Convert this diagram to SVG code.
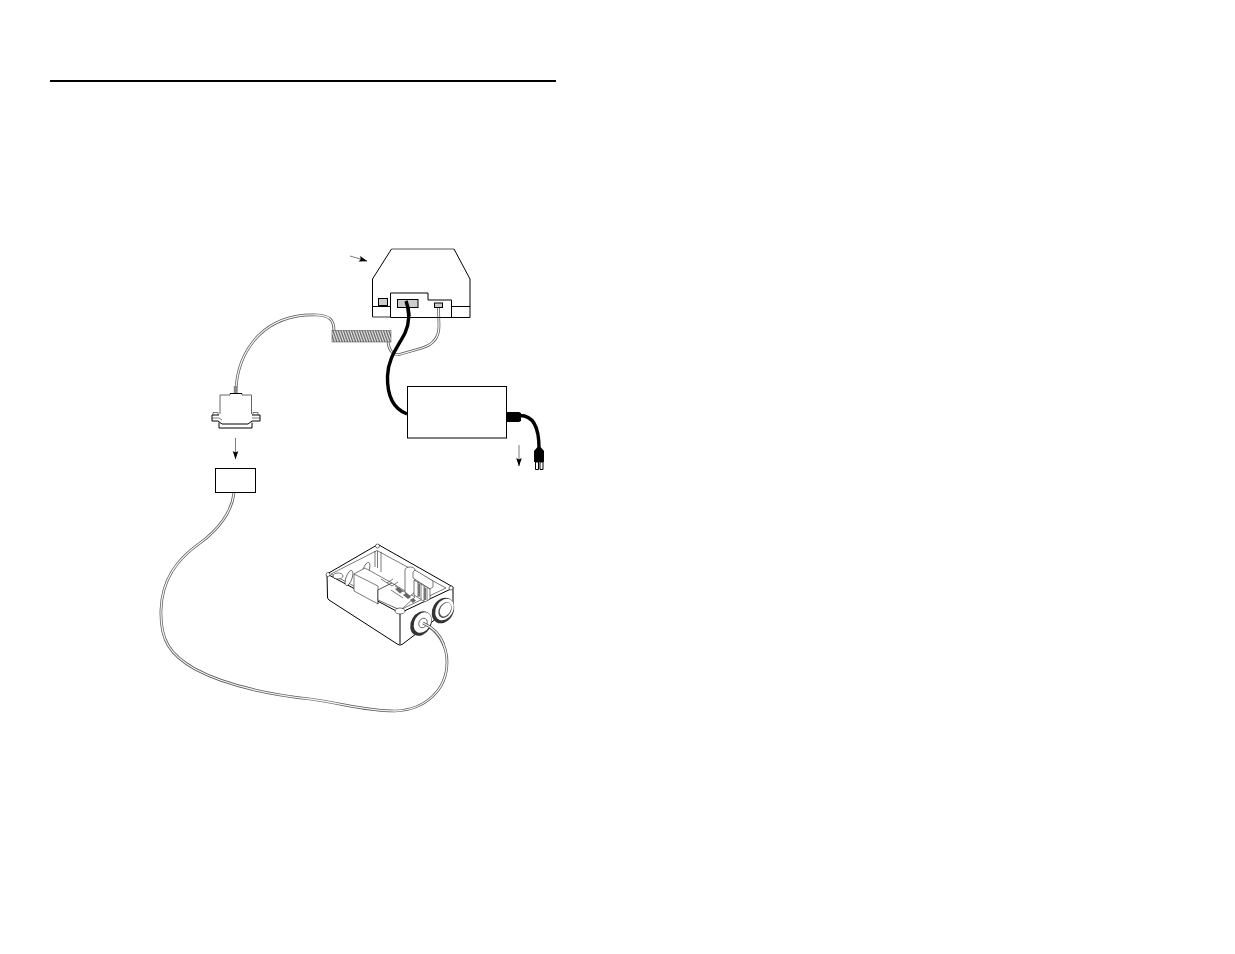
<svg xmlns="http://www.w3.org/2000/svg" width="1235" height="954" viewBox="0 0 1235 954">
<style>
.l{fill:none;stroke:#000;stroke-width:1}
.t{fill:none;stroke:#222;stroke-width:.6}
.w{fill:#fff;stroke:#000;stroke-width:1}
.wt{fill:#fff;stroke:#222;stroke-width:.6}
.g{fill:#ccc;stroke:#000;stroke-width:1}
.co{fill:none;stroke:#555;stroke-width:2.7}
.ci{fill:none;stroke:#f4f4f4;stroke-width:1.3}
.b{fill:none;stroke:#000;stroke-width:3.4}
.a{fill:none;stroke:#444;stroke-width:.7}
</style>
<defs>
<pattern id="coil" width="1.6" height="12" patternUnits="userSpaceOnUse" patternTransform="translate(332 330) skewX(-12)"><rect width="1.6" height="12" fill="#e8e8e8"/><path d="M.4 0V12" stroke="#444" stroke-width=".7"/></pattern>
<marker id="ah" markerWidth="10" markerHeight="8" refX="8" refY="3" orient="auto" markerUnits="userSpaceOnUse"><path d="M0 .2L8.500 3L0 5.800L1.500 3Z" fill="#000"/></marker>
</defs>
<rect width="1235" height="954" fill="#fff"/>
<path d="M50 81H556" stroke="#000" stroke-width="2" fill="none"/>

<g id="connectors">
<path class="co" d="M236 393C236 370 243 352 258 336C274 320 296 314 318 315C329 316 334 319 334 331"/>
<path class="ci" d="M236 393C236 370 243 352 258 336C274 320 296 314 318 315C329 316 334 319 334 331"/>
<path class="co" d="M438.500 308L439 326C439 338 432 345 422 348L401 354C393 357 389 350 388 342"/>
<path class="ci" d="M438.500 308L439 326C439 338 432 345 422 348L401 354C393 357 389 350 388 342"/>
<path class="b" d="M406 301C410 312 410 322 405 333C398 347 388 358 387.500 376C387 396 394 409 407 414"/>
<path class="b" d="M520 415.500C533 415.500 539 426 539 448"/>
<path class="co" d="M234 493C232 512 218 530 200 543C176 560 162 580 161 610C160 640 170 655 195 669C225 685 265 694 310 699C345 704 365 711 395 711C425 710 447 690 447 662C447 644 437 630 423 623"/>
<path class="ci" d="M234 493C232 512 218 530 200 543C176 560 162 580 161 610C160 640 170 655 195 669C225 685 265 694 310 699C345 704 365 711 395 711C425 710 447 690 447 662C447 644 437 630 423 623"/>
<path class="a" marker-end="url(#ah)" d="M350 256L367 261"/>
<path class="a" marker-end="url(#ah)" d="M235.500 438V459"/>
<path class="a" marker-end="url(#ah)" d="M519 445V466"/>
</g>

<g id="coiled-cord">
<rect x="332" y="330.500" width="59" height="11.500" fill="url(#coil)" stroke="#444" stroke-width=".5"/>
</g>

<g id="monitor">
<path class="l" style="stroke:#555;stroke-width:1.2" d="M391.500 249H454"/>
<path class="l" d="M454 249L470 279V317.500H390.500M391.500 249L372.500 279V317"/>
<path class="l" style="stroke:#555;stroke-width:1.2" d="M372.500 317H390.500"/>
<path class="l" d="M372.500 306.500H390.500M451.500 306.500H470"/>
<path class="l" d="M390.500 317.500V293H428V300H451.500V317.500"/>
<rect class="g" x="378.500" y="298.500" width="9" height="7"/>
<rect class="g" x="397.500" y="299.500" width="20.500" height="8"/>
<rect class="g" x="434.500" y="303" width="8" height="4.500"/>
<path class="b" d="M406 301C408 306 409 310 409 316"/>
</g>

<g id="power-supply">
<rect class="w" x="407.500" y="386.500" width="99" height="51.500"/>
<path d="M507 412H519L521 413V421L519 422H507Z" fill="#000"/>
<path d="M537.500 447H540.500L544 451V462H534V451Z" fill="#000"/>
<path class="w" d="M535.500 462H538.500V469.500H535.500ZM540 462H543V469.500H540Z"/>
</g>

<g id="db-connector">
<path d="M235.500 386V393" stroke="#888" stroke-width="3.500" fill="none"/>
<path class="l" style="stroke:#666" d="M220 414V395H230V393.500H242V395H251.500V414"/>
<path class="l" d="M230 393.500H242"/>
<path class="l" d="M212 415H219M252 415H260M212 415V421H218L222 424H248L252 421H260V415"/>
<path class="t" d="M213 415V412.500H218V415M253 415V412.500H258V415M212 418H219L222 420M252 418H260"/>
<path class="l" d="M219 422.500V428H252V422.500"/>
</g>

<g id="junction-box">
<rect class="w" x="215.500" y="468.500" width="40" height="24"/>
</g>

<g id="enclosure">
<path class="w" d="M327 574L377 545Q378 544.500 379 545L453 587V606L402 644.500Q400 645.500 398 644.500L329 600Q327.500 599 327.500 597Z"/>
<path class="l" d="M327 574L400 613L453 588M400 613V644"/>
<path class="t" d="M331 574L377 550.500L446 588L402 609H398Z"/>
<path class="t" d="M375 551V567M381 552V572M377.500 551V568"/>
<ellipse class="wt" cx="338" cy="576" rx="5" ry="3"/>
<ellipse class="wt" cx="349" cy="578" rx="3" ry="8" transform="rotate(20 349 578)"/>
<ellipse class="wt" cx="366" cy="570" rx="3" ry="8" transform="rotate(20 366 570)"/>
<path class="wt" d="M354 574L365 568L392 583L378 590V604L354 591Z"/>
<path class="t" d="M354 574L378 586V604"/>
<path class="wt" d="M378 590L392 583L415 597L402 609H398L378 600Z"/>
<path class="t" d="M381 579L392 586L398 582M387 583L393 579"/>
<path d="M395 589L398 587.500L403 591.500L400 593.500ZM403 595L406 593L411 597L408 599ZM410 600L413 598L416 600.500L413 603Z" fill="#666"/>
<path class="t" d="M395 586L408 594M391 590L403 598"/>
<path class="wt" d="M405 570C405 566 415 566 415 570V592L410 596L405 592Z"/>
<path class="wt" d="M415 570L433 581V587L430 589L413 578V572Z"/>
<path class="wt" d="M414 580L430 589V599L425 602L414 595Z"/>
<path class="t" d="M418 582V597M421 584V599M424 586V601M427 588V600"/>
<path d="M418 583L420 584V597L418 596ZM424 587L426 588V600L424 600Z" fill="#777"/>
<ellipse class="wt" cx="400" cy="611" rx="5" ry="3"/>
<ellipse cx="421" cy="623.500" rx="10" ry="13" transform="rotate(30 421 623.500)" fill="#333"/>
<ellipse cx="422.500" cy="622.500" rx="8" ry="11" transform="rotate(30 422.500 622.500)" fill="#fff"/>
<ellipse class="t" cx="423" cy="623" rx="4" ry="5" transform="rotate(30 423 623)"/>
<ellipse cx="443" cy="610.500" rx="10.500" ry="13.500" transform="rotate(30 443 610.500)" fill="#333"/>
<ellipse cx="444.500" cy="609.500" rx="8.500" ry="11.500" transform="rotate(30 444.500 609.500)" fill="#fff"/>
<ellipse cx="445" cy="610" rx="6" ry="8.500" transform="rotate(30 445 610)" fill="#555"/>
<ellipse cx="445.500" cy="609.500" rx="5" ry="7.500" transform="rotate(30 445.500 609.500)" fill="#fff"/>
<circle class="wt" cx="328" cy="574.500" r="2"/>
<circle class="wt" cx="377.500" cy="546" r="2"/>
<circle class="wt" cx="451" cy="588" r="2"/>
<path class="co" d="M423 623C432 627 440 634 444 645"/>
<path class="ci" d="M423 623C432 627 440 634 444 645"/>
</g>
</svg>
